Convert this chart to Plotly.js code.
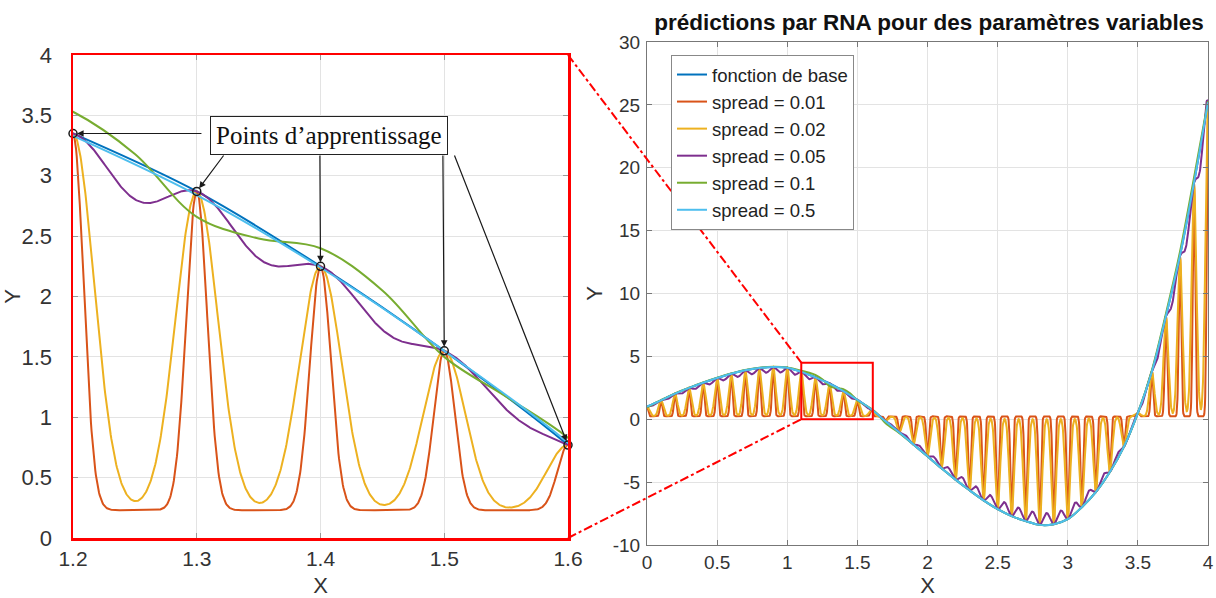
<!DOCTYPE html>
<html><head><meta charset="utf-8">
<script src="https://cdn.plot.ly/plotly-3.0.1.min.js"></script>
<style>html,body{margin:0;padding:0;background:#fff}#chart{width:1216px;height:598px}</style>
</head><body><div id="chart"></div>
<script>
// ---- data ----
const trainX = [0,0.1,0.2,0.3,0.4,0.5,0.6,0.7,0.8,0.9,1.0,1.1,1.2,1.3,1.4,1.5,1.6,1.7,1.8,1.9,2.0,
                2.1,2.2,2.3,2.4,2.5,2.6,2.7,2.8,2.9,3.0,3.1,3.2,3.3,3.4,3.5,3.6,3.7,3.8,3.9,4.0];
const trainY = [1.0,1.5,2.04,2.49,2.9,3.28,3.62,3.89,4.07,4.15,4.1,3.78,3.35,2.87,2.25,1.55,0.77,-0.15,-1.05,-2.0,-2.95,
                -3.9,-4.8,-5.65,-6.45,-7.15,-7.7,-8.1,-8.4,-8.35,-7.95,-7.0,-5.8,-4.2,-2.2,0.5,3.8,8.2,13.0,18.8,25.2];
const rnaSpreads = [0.01, 0.02, 0.05];
const rnaBias = [0.23, 0.23, 0.23];
const rnaColors = ['#D95319', '#EDB120', '#7E2F8E'];
// spread = 0.1 network
const greenX = [0,0.1,0.2,0.3,0.4,0.5,0.6,0.7,0.8,0.9,1.0,1.05,1.1,1.15,1.2,1.25,1.3,1.35,1.4,1.45,1.5,1.55,1.6,1.65,1.7,1.8,1.9,2.0,
                2.1,2.2,2.3,2.4,2.5,2.6,2.7,2.8,2.9,3.0,3.1,3.2,3.3,3.4,3.5,3.6,3.7,3.8,3.9,4.0];
const greenY = [0.95,1.52,2.05,2.5,2.92,3.3,3.64,3.92,4.1,4.17,4.12,4.0,3.86,3.72,3.53,3.18,2.66,2.48,2.4,2.05,1.5,1.17,0.83,0.35,-0.3,-1.1,-2.0,-2.95,
                -3.9,-4.8,-5.65,-6.45,-7.15,-7.7,-8.1,-8.4,-8.35,-7.95,-7.0,-5.8,-4.2,-2.2,0.5,3.9,8.4,13.3,19.2,25.3];
// spread = 0.5 network
const cyanY = [1.0,1.5,2.04,2.49,2.9,3.28,3.62,3.89,4.07,4.15,4.1,3.77,3.33,2.84,2.24,1.55,0.79,-0.15,-1.05,-2.0,-2.95,
               -3.9,-4.8,-5.65,-6.45,-7.15,-7.7,-8.1,-8.4,-8.35,-7.95,-7.0,-5.8,-4.2,-2.2,0.5,3.8,8.2,13.0,18.8,25.2];
const legendNames = ['fonction de base','spread = 0.01','spread = 0.02','spread = 0.05','spread = 0.1','spread = 0.5'];
const yTicks2 = [-10,-5,0,5,10,15,20,25,30];
const yTickText2 = ['-10','-5','0','5','10','15','20','25','30'];
const titleText = 'prédictions par RNA pour des paramètres variables';
const annoText = 'Points d’apprentissage';

// ---- RBF network evaluation ----
function solve(A, b) {
  const n = b.length; const M = A.map((r,i)=>r.concat([b[i]]));
  for (let c=0;c<n;c++){
    let p=c; for(let r=c+1;r<n;r++) if(Math.abs(M[r][c])>Math.abs(M[p][c])) p=r;
    [M[c],M[p]]=[M[p],M[c]];
    for(let r=c+1;r<n;r++){const f=M[r][c]/M[c][c]; for(let k=c;k<=n;k++) M[r][k]-=f*M[c][k];}
  }
  const x=new Array(n).fill(0);
  for(let r=n-1;r>=0;r--){let s=M[r][n]; for(let k=r+1;k<n;k++) s-=M[r][k]*x[k]; x[r]=s/M[r][r];}
  return x;
}
function rbfNet(spread, bias) {
  const k = Math.sqrt(-Math.log(0.5))/spread;
  const A = trainX.map(a=>trainX.map(c=>Math.exp(-Math.pow(k*(a-c),2))));
  const w = solve(A, trainY.map(t=>t-bias));
  return xs => xs.map(x=>{let s=bias; for(let i=0;i<trainX.length;i++) s+=w[i]*Math.exp(-Math.pow(k*(x-trainX[i]),2)); return s;});
}
const xsR = []; for(let i=0;i<=2000;i++) xsR.push(i*0.002);
const xsL = []; for(let i=0;i<=800;i++) xsL.push(1.2+i*0.0005);

const W=1216,H=598;
const dxL=[73/W,568/W], dyL=[1-538/H,1-55/H];
const dxR=[647/W,1208/W], dyR=[1-545/H,1-42/H];

const traces=[];
function addSet(xa, ya, leg, xsEval){
  traces.push({x:trainX,y:trainY,xaxis:xa,yaxis:ya,mode:'lines',line:{color:'#0072BD',width:2,shape:'spline'},name:legendNames[0],showlegend:leg});
  rnaSpreads.forEach((s,i)=>{
    const f=rbfNet(s,rnaBias[i]);
    traces.push({x:xsEval,y:f(xsEval),xaxis:xa,yaxis:ya,mode:'lines',line:{color:rnaColors[i],width:2},name:legendNames[i+1],showlegend:leg});
  });
  traces.push({x:greenX,y:greenY,xaxis:xa,yaxis:ya,mode:'lines',line:{color:'#77AC30',width:2,shape:'spline'},name:legendNames[4],showlegend:leg});
  traces.push({x:trainX,y:cyanY,xaxis:xa,yaxis:ya,mode:'lines',line:{color:'#4DBEEE',width:2,shape:'spline'},name:legendNames[5],showlegend:leg});
}
addSet('x','y',false,xsL);
addSet('x2','y2',true,xsR);
const ptsX=[],ptsY=[];
trainX.forEach((x,i)=>{if(x>1.19&&x<1.61){ptsX.push(x);ptsY.push(trainY[i]);}});
traces.push({x:ptsX,y:ptsY,xaxis:'x',yaxis:'y',mode:'markers',cliponaxis:false,showlegend:false,
  marker:{symbol:'circle-open',size:8,color:'#1a1a1a',line:{width:1.5}}});

const font={family:'Liberation Sans, Arial, sans-serif',color:'#333'};
const gridc='#e3e3e3';
const layout={
  width:W,height:H,margin:{l:0,r:0,t:0,b:0},paper_bgcolor:'#fff',plot_bgcolor:'#fff',showlegend:true,
  font:font,
  title:{text:'<b>'+titleText+'</b>',x:929/W,xanchor:'center',y:1-22/H,yanchor:'middle',xref:'paper',yref:'paper',
    font:{family:'Liberation Sans, Arial, sans-serif',size:22.5,color:'#111'}},
  xaxis:{domain:dxL,range:[1.2,1.6],dtick:0.1,tick0:1.2,showgrid:true,gridcolor:gridc,zeroline:false,
    showline:true,linecolor:'#ff0000',linewidth:2.5,mirror:'ticks',ticks:'inside',ticklen:5,tickcolor:'#999',
    tickfont:{size:21,color:'#333'},ticklabelstandoff:0,title:{text:'X',font:{size:22,color:'#333'},standoff:10},automargin:false},
  yaxis:{domain:dyL,range:[0,4],dtick:0.5,showgrid:true,gridcolor:gridc,zeroline:false,
    showline:true,linecolor:'#ff0000',linewidth:2.5,mirror:'ticks',ticks:'inside',ticklen:5,tickcolor:'#999',
    tickfont:{size:22,color:'#333'},ticklabelstandoff:14,title:{text:'Y',font:{size:22,color:'#333'},standoff:0},automargin:false},
  xaxis2:{domain:dxR,range:[0,4],dtick:0.5,showgrid:true,gridcolor:gridc,zeroline:false,anchor:'y2',
    showline:true,linecolor:'#777',linewidth:1,mirror:'ticks',ticks:'inside',ticklen:5,tickcolor:'#777',
    tickfont:{size:19,color:'#333'},title:{text:'X',font:{size:22,color:'#333'},standoff:6},automargin:false},
  yaxis2:{domain:dyR,range:[-10,30],tickvals:yTicks2,ticktext:yTickText2,showgrid:true,gridcolor:gridc,zeroline:false,anchor:'x2',
    showline:true,linecolor:'#777',linewidth:1,mirror:'ticks',ticks:'inside',ticklen:5,tickcolor:'#777',
    tickfont:{size:19,color:'#333'},ticklabelstandoff:2,title:{text:'Y',font:{size:22,color:'#333'},standoff:4},automargin:false},
  legend:{x:671/W,y:1-55/H,xanchor:'left',yanchor:'top',bgcolor:'#fff',bordercolor:'#888',borderwidth:1,
    font:{size:18.5,color:'#222'},itemwidth:30,tracegroupgap:0},
  shapes:[],annotations:[]
};
// zoom box on the right panel
const box={x0:1.1,x1:1.61,y0:0,y1:4.5};
layout.shapes.push({type:'rect',xref:'x2',yref:'y2',x0:box.x0,x1:box.x1,y0:box.y0,y1:box.y1,line:{color:'#ff0000',width:2}});
function px2(xv){return dxR[0]+(xv-0)/4*(dxR[1]-dxR[0]);}
function py2(yv){return dyR[0]+(yv+10)/40*(dyR[1]-dyR[0]);}
layout.shapes.push({type:'line',xref:'paper',yref:'paper',x0:dxL[1],y0:dyL[1],x1:px2(box.x0),y1:py2(box.y1),line:{color:'#ff0000',width:2,dash:'dashdot'}});
layout.shapes.push({type:'line',xref:'paper',yref:'paper',x0:dxL[1],y0:dyL[0],x1:px2(box.x0),y1:py2(box.y0),line:{color:'#ff0000',width:2,dash:'dashdot'}});
// arrows to the training points
const tails=[[1.305,3.35],[1.3226,3.18],[1.3995,3.18],[1.4989,3.18],[1.5078,3.18]];
ptsX.forEach((x,i)=>{
  layout.annotations.push({x:x,y:ptsY[i],xref:'x',yref:'y',ax:tails[i][0],ay:tails[i][1],axref:'x',ayref:'y',text:'',
    showarrow:true,arrowhead:2,arrowsize:1.1,arrowwidth:1.2,arrowcolor:'#1a1a1a',standoff:4});
});
layout.annotations.push({x:1.4065,y:3.333,xref:'x',yref:'y',text:annoText,showarrow:false,bgcolor:'#fff',
  bordercolor:'#222',borderwidth:1,borderpad:5,font:{family:'Liberation Serif, Times New Roman, serif',size:25,color:'#111'}});

Plotly.newPlot('chart',traces,layout,{displayModeBar:false,staticPlot:true});
</script></body></html>
